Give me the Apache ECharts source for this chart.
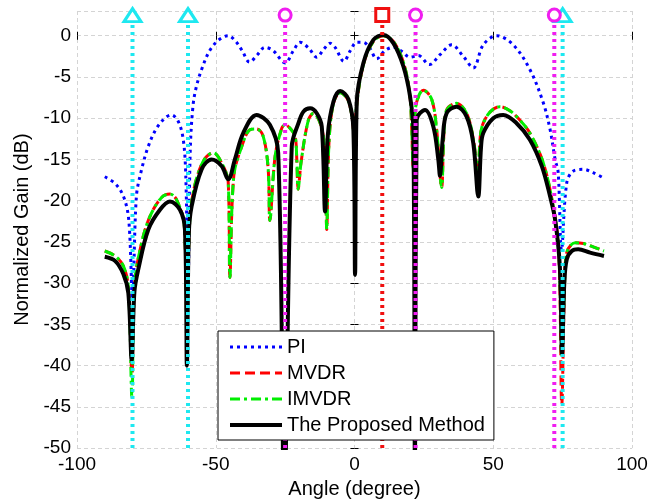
<!DOCTYPE html>
<html>
<head>
<meta charset="utf-8">
<script src="https://cdn.jsdelivr.net/npm/echarts@6/dist/echarts.min.js"></script>
<style>
  html, body { margin: 0; padding: 0; background: #fff; }
  #main { width: 667px; height: 504px; }
</style>
</head>
<body>
<div id="main"></div>
<script>
// beam pattern values (angle in degree, gain in dB)
let piAngle = [-90, -86, -83, -81.3, -80, -78.6, -76.7, -74.3, -71.3, -68, -66, -63.5, -61.7, -60.8, -60, -59.2, -58.2, -57,
    -55, -52, -48.5, -45.5, -43, -40.5, -37.8, -35, -32.3, -29.3, -25, -22, -19.6, -16.5, -13.6, -11, -8.8, -7, -3.8, -1.5,
    0.8, 3.2, 5.5, 8, 11, 14, 17, 20, 23, 27, 30.8, 35, 39.2, 42.8, 46.4, 51.2, 57.2, 63.2, 68, 70.5, 72.3, 73.4, 74.6,
    76.5, 78.9, 82.5, 86, 89.5];
let piGain = [-17.1, -18.0, -19.7, -22.5, -32, -19.5, -16.2, -13.4, -11.2, -9.9, -9.6, -10.4, -12.6, -17, -30, -14, -8.5, -6.2,
    -4.0, -1.7, -0.4, 0, -0.6, -1.8, -3.2, -2.3, -1.4, -1.8, -3.3, -1.8, -0.8, -1.5, -2.6, -1.6, -0.9, -1.4, -3.1, -1.8,
    -0.8, -0.8, -1.5, -2.8, -1.8, -1.4, -1.9, -2.6, -2.4, -3.5, -2.3, -1.1, -2.5, -3.9, -1.1, 0, -1.1, -4.1, -8.1, -11.4, -15, -16.6, -26,
    -17.8, -16.4, -16.2, -16.6, -17.2];

let mvdrAngle = [-90, -86.3, -83.3, -81.5, -80.2, -79.2, -76.7, -73.7, -69.5, -66.5, -64.1, -61.3, -60.4, -59.6, -58.1, -54.5,
    -50.9, -47.9, -45.5, -44.9, -43.5, -40.6, -37.7, -35.3, -32.9, -31.1, -30.5, -28.6, -26.2, -25, -23, -21.4, -20.8, -20.3,
    -19.2, -16.6, -14.8, -11.8, -10.6, -10, -9.2, -7.6, -5.2, -2.2, -0.5, 0, 0.6, 3.2, 6.8, 10.4, 14, 17.6, 19.8, 20.6, 21.1,
    21.7, 22.6, 24.8, 27.8, 29.6, 31.4, 32.2, 33.2, 36.8, 40.4, 42.8, 44.4, 45.4, 46.4, 49, 52.4, 56, 59.5, 63.2, 68, 71.6,
    73.6, 74.7, 75.7, 76.5, 79.5, 82.5, 86, 89.9];
let mvdrGain = [-26.1, -26.7, -27.9, -30.5, -41, -30, -25.1, -21.9, -19.6, -19.2, -19.9, -23.1, -38, -24, -19.0, -15.2,
    -14.2, -15.4, -17.8, -29.3, -17, -13.4, -11.4, -11.3, -12.2, -16.2, -22.4, -14.6, -11.2, -10.8, -11.3, -12.2, -15.0, -18.6,
    -15.2, -10.2, -9.4, -11.2, -15, -23.5, -13, -8.2, -6.9, -7.9, -11, -14, -9, -3.5, -0.7, 0, -0.7, -3.2, -6.8, -11, -16,
    -10, -7.8, -6.6, -7.7, -11.4, -18.4, -12, -9.0, -8.2, -9.4, -12.5, -16.5, -12, -10.6, -9.2, -8.6, -9.1, -10.2, -11.8, -15.4, -20.7,
    -26, -44.7, -30, -26.3, -25.1, -25.2, -25.6, -26.1];
let imvdrGain = [-26.1, -26.7, -27.9, -30.5, -43.8, -30, -25.1, -21.9, -19.6, -19.2, -19.9, -23.1, -38, -24, -19.0, -15.2,
    -14.2, -15.4, -17.8, -29.3, -17, -13.4, -11.4, -11.3, -12.2, -16.2, -22.4, -14.6, -11.2, -10.8, -11.3, -12.2, -15.0, -18.6,
    -15.2, -10.2, -9.4, -11.2, -15, -23.5, -13, -8.2, -6.9, -7.9, -11, -14, -9, -3.5, -0.7, 0, -0.7, -3.2, -6.8, -11, -16,
    -10, -7.8, -6.6, -7.7, -11.4, -18.4, -12, -9.0, -8.2, -9.4, -12.5, -16.5, -12, -10.6, -9.2, -8.6, -9.1, -10.2, -11.8, -15.4, -20.7,
    -26, -39, -30, -26.3, -25.1, -25.2, -25.6, -26.1];

let propAngle = [-90, -86.3, -83.3, -81.5, -80.3, -79.3, -77.9, -74.3, -70.1, -66.5, -62.9, -61.1, -60.4, -59.7, -58.7, -55.1,
    -51.5, -47.9, -45.5, -43.1, -40.1, -35.3, -30.5, -27.5, -25.3, -22.6, -20.2, -18.4, -16, -13.6, -11.8, -10.6, -9.6, -7.6,
    -5.2, -2.2, -0.4, 0.2, 0.8, 3.2, 6.8, 10.4, 14, 17.6, 20, 21.2, 21.8, 22.4, 25.4, 28.4, 30.2, 30.8, 31.8, 33.2, 36.8,
    40.4, 42.8, 44.6, 45.6, 46.4, 50, 53.6, 58.4, 63.2, 67.5, 70.5, 72.3, 74, 74.8, 75.6, 76.5, 78.3, 80.6, 84.9, 89.9];
let propGain = [-26.8, -27.3, -28.9, -31.2, -39.3, -31, -28.3, -23.5, -21.1, -20.1, -21.1, -23.5, -40, -24, -20.7, -16.2,
    -15.0, -15.8, -17.4, -15.0, -11.8, -9.6, -10.8, -14.2, -55, -13.4, -10.6, -9.2, -8.8, -9.4, -11, -21.3, -12, -8.0,
    -6.7, -7.7, -11.4, -29, -8.1, -3.3, -0.5, 0.1, -0.9, -3.7, -7.3, -11.4, -55, -10.2, -9.0, -11, -15, -17, -12.5, -9.4, -8.6,
    -9.8, -13, -19.5, -13.5, -11.8, -10, -9.6, -10.6, -12.6, -15.8, -19.5, -22.3, -28, -38.6, -30, -27.1, -26.1, -25.9, -26.3, -26.7];

// directions marked by the vertical lines
let cyanAngles = [-80, -60, 75];
let magentaAngles = [-25, 22, 72];
let redAngles = [10];
let markTop = 2.5;

function pairs(xs, ys) {
    return xs.map((x, i) => [x, ys[i]]);
}

let font = "'Liberation Sans', Arial, sans-serif";

function markLine(angle, color, symbol, size) {
    return {
        type: 'line',
        silent: true,
        z: 5,
        lineStyle: { color: color, width: 4, type: [3, 4] },
        showSymbol: true,
        symbol: 'none',
        data: [
            [angle, -50],
            {
                value: [angle, markTop],
                symbol: symbol,
                symbolSize: size,
                itemStyle: { color: '#fff', borderColor: color, borderWidth: 3 }
            }
        ]
    };
}

let myChart = echarts.init(document.getElementById('main'), null, { renderer: 'canvas' });

let markSeries = [];
cyanAngles.forEach(a => markSeries.push(markLine(a, '#1ee8f0', 'triangle', [17, 13])));
magentaAngles.forEach(a => markSeries.push(markLine(a, '#f01ef0', 'circle', 12)));
redAngles.forEach(a => markSeries.push(markLine(a, '#f01010', 'rect', 13)));

let gridStyle = { show: true, lineStyle: { color: '#d4d4d4', type: [4, 3], width: 1 } };
let tickStyle = { show: true, inside: true, length: 4, lineStyle: { color: '#000' } };

let option = {
    animation: false,
    backgroundColor: '#fff',
    textStyle: { fontFamily: font },
    grid: { left: 77, right: 35, top: 11, bottom: 55 },
    legend: {
        data: ['PI', 'MVDR', 'IMVDR', 'The Proposed Method'],
        orient: 'vertical',
        left: 218,
        top: 331,
        padding: [6, 9, 5, 10],
        itemWidth: 52,
        itemHeight: 20,
        itemGap: 6,
        itemStyle: { opacity: 0 },
        lineStyle: { width: 'inherit' },
        borderColor: '#000',
        borderWidth: 1,
        backgroundColor: '#fff',
        textStyle: { fontSize: 20, color: '#000', fontFamily: font },
        z: 20
    },
    xAxis: [{
        type: 'value',
        min: -100,
        max: 100,
        interval: 50,
        name: 'Angle (degree)',
        nameLocation: 'middle',
        nameGap: 30,
        nameTextStyle: { fontSize: 20, color: '#000', fontFamily: font },
        axisLine: { show: false },
        axisTick: tickStyle,
        axisLabel: { fontSize: 19, color: '#000', margin: 7, fontFamily: font },
        splitLine: gridStyle
    }, {
        type: 'value',
        position: 'top',
        min: -100,
        max: 100,
        interval: 50,
        axisLine: { show: false },
        axisTick: tickStyle,
        axisLabel: { show: false },
        splitLine: { show: false }
    }],
    yAxis: [{
        type: 'value',
        min: -50,
        max: 3,
        interval: 5,
        name: 'Normalized Gain (dB)',
        nameLocation: 'middle',
        nameGap: 44,
        nameTextStyle: { fontSize: 20, color: '#000', fontFamily: font },
        axisLine: { show: false },
        axisTick: tickStyle,
        axisLabel: {
            fontSize: 19, color: '#000', margin: 6, fontFamily: font,
            formatter: function(v) { return v > 0 ? '' : v; }
        },
        splitLine: gridStyle
    }, {
        type: 'value',
        position: 'right',
        min: -50,
        max: 3,
        interval: 5,
        axisLine: { show: false },
        axisTick: tickStyle,
        axisLabel: { show: false },
        splitLine: { show: false }
    }],
    series: [{
        name: 'PI',
        type: 'line',
        smooth: 0.35,
        symbol: 'none',
        lineStyle: { color: '#0000ff', width: 3, type: [3, 4] },
        itemStyle: { color: '#0000ff' },
        data: pairs(piAngle, piGain)
    }, {
        name: 'MVDR',
        type: 'line',
        smooth: 0.35,
        symbol: 'none',
        lineStyle: { color: '#ff0000', width: 3, type: [10, 5] },
        itemStyle: { color: '#ff0000' },
        data: pairs(mvdrAngle, mvdrGain)
    }, {
        name: 'IMVDR',
        type: 'line',
        smooth: 0.35,
        symbol: 'none',
        lineStyle: { color: '#00ee00', width: 3, type: [10, 4, 3, 4] },
        itemStyle: { color: '#00ee00' },
        data: pairs(mvdrAngle, imvdrGain)
    }, {
        name: 'The Proposed Method',
        type: 'line',
        smooth: 0.35,
        symbol: 'none',
        lineStyle: { color: '#000', width: 4 },
        itemStyle: { color: '#000' },
        data: pairs(propAngle, propGain)
    }].concat(markSeries)
};

myChart.setOption(option);
</script>
</body>
</html>
